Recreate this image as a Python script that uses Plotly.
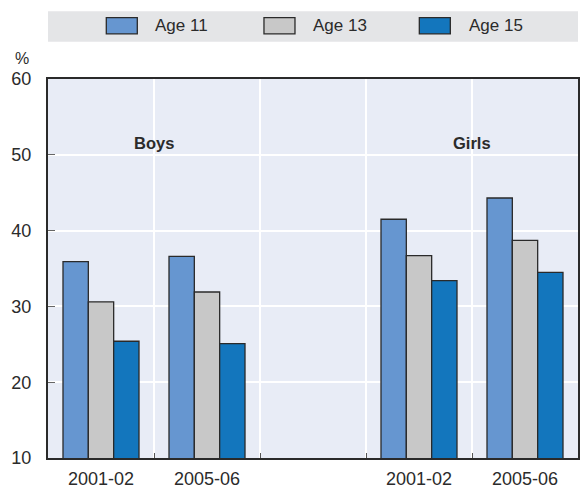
import plotly.graph_objects as go

# Survey periods on the category axis (gap slot between Boys and Girls)
x_pos = [0, 1, 3, 4]
period_labels = ["2001-02", "2005-06", "2001-02", "2005-06"]

# Share (%) by age group: Boys 2001-02, Boys 2005-06, Girls 2001-02, Girls 2005-06
age11 = [35.9, 36.6, 41.5, 44.3]
age13 = [30.6, 31.9, 36.7, 38.7]
age15 = [25.4, 25.1, 33.4, 34.5]

series_names = ["Age 11", "Age 13", "Age 15"]
series_values = [age11, age13, age15]
colors = ["#6696D0", "#C8C8C8", "#1376BD"]

group_labels = ["Boys", "Girls"]
group_label_x = [0.5, 3.5]
group_label_y = 51.5

y_ticks = [10, 20, 30, 40, 50, 60]

FONT = "Liberation Sans, Arial, sans-serif"
TXT = "#2b2b2b"

fig = go.Figure()
for name, vals, col in zip(series_names, series_values, colors):
    fig.add_trace(go.Bar(
        x=x_pos, y=vals, name=name,
        marker=dict(color=col, line=dict(color="#2a2a2a", width=1.3)),
        showlegend=False,
    ))

# Group headings
for lab, gx in zip(group_labels, group_label_x):
    fig.add_annotation(x=gx, y=group_label_y, xref="x", yref="y", text=f"<b>{lab}</b>",
                       showarrow=False, font=dict(family=FONT, size=16.5, color=TXT))

# Legend band drawn in paper coordinates
shapes = [dict(type="rect", xref="paper", yref="paper", x0=0, x1=1, y0=1.098, y1=1.179,
               fillcolor="#E4E5E7", line=dict(width=0), layer="below")]
sw_x0 = [0.110, 0.4075, 0.7006]
txt_x0 = [0.1976, 0.496, 0.790]
for name, col, sx, tx in zip(series_names, colors, sw_x0, txt_x0):
    shapes.append(dict(type="rect", xref="paper", yref="paper", x0=sx, x1=sx + 0.0585,
                       y0=1.119, y1=1.162, fillcolor=col, line=dict(color="#2a2a2a", width=1.3)))
    fig.add_annotation(x=tx, y=1.140, xref="paper", yref="paper", text=name, showarrow=False,
                       xanchor="left", yanchor="middle",
                       font=dict(family=FONT, size=17, color=TXT))

# Unit label above the value axis
fig.add_annotation(x=-0.049, y=1.055, xref="paper", yref="paper", text="%", showarrow=False,
                   xanchor="center", yanchor="middle", font=dict(family=FONT, size=16, color=TXT))

fig.update_layout(
    width=584, height=489,
    margin=dict(l=48, r=6, t=79, b=31),
    paper_bgcolor="white", plot_bgcolor="#E8ECF6",
    barmode="group", bargap=0.283, bargroupgap=0,
    font=dict(family=FONT, size=18, color=TXT),
    shapes=shapes,
)
fig.update_xaxes(
    range=[-0.5, 4.5], tickmode="array", tickvals=x_pos, ticktext=period_labels,
    ticks="", showgrid=False, zeroline=False, ticklabelstandoff=3, automargin=False,
    showline=True, linecolor="#2a2a2a", linewidth=2, mirror=True,
    tickfont=dict(family=FONT, size=18, color=TXT),
    minor=dict(tickmode="array", tickvals=[0.5, 1.5, 2.5, 3.5], showgrid=True,
               gridcolor="white", gridwidth=1.5, ticks="inside", ticklen=5,
               tickcolor="#555555", tickwidth=1),
)
fig.update_yaxes(
    range=[10, 60], tickmode="array", tickvals=y_ticks,
    showgrid=True, gridcolor="white", gridwidth=1.5, zeroline=False,
    ticks="inside", ticklen=7, tickcolor="#666666", tickwidth=1.2,
    ticklabelstandoff=11, automargin=False,
    showline=True, linecolor="#2a2a2a", linewidth=2, mirror=True,
    tickfont=dict(family=FONT, size=18, color=TXT),
)

fig.write_html("out.html")
